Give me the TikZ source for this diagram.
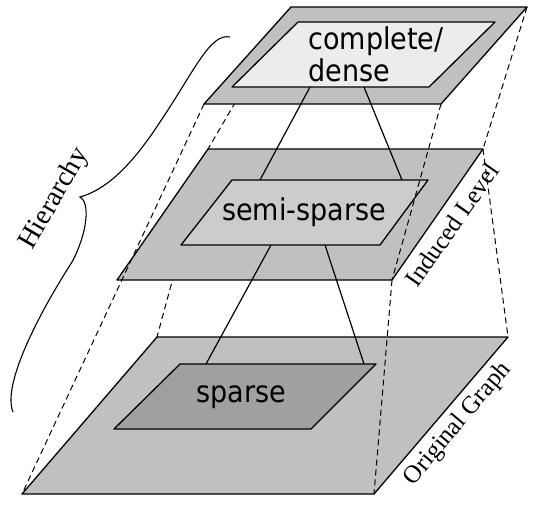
\documentclass[tikz,border=0pt]{standalone}
\usepackage{fontspec}
\setmainfont{Liberation Serif}
\newfontfamily\labelfont[FakeStretch=0.9]{DejaVu Sans}
\definecolor{planegray}{HTML}{C0C0C0}
\definecolor{densegray}{HTML}{ECECEC}
\definecolor{semigray}{HTML}{CCCCCC}
\definecolor{sparsegray}{HTML}{A0A0A0}

\begin{document}
\begin{tikzpicture}[x=1pt,y=-1pt,
	plane/.style={draw,line width=1.3pt,line join=round,fill=planegray},
	inner/.style={draw,line width=1.3pt,line join=round},
	proj/.style={line width=1pt,dash pattern=on 6pt off 4pt},
	link/.style={line width=1.2pt},
	graphtext/.style={font=\labelfont\fontsize{30}{32}\selectfont,inner sep=0pt},
	leveltext/.style={font=\fontsize{25}{30}\selectfont,inner sep=0pt}]
	\useasboundingbox (0,0) rectangle (534,504);
	% corners of the three levels
	\coordinate (T1) at (291,7);   \coordinate (T2) at (527,7);
	\coordinate (T3) at (441,104); \coordinate (T4) at (204,104);
	\coordinate (M1) at (208,149); \coordinate (M2) at (483,149);
	\coordinate (M3) at (392,280); \coordinate (M4) at (117,280);
	\coordinate (B1) at (157,337); \coordinate (B2) at (508,337);
	\coordinate (B3) at (374,494); \coordinate (B4) at (22,494);

	\draw[plane] (B1) -- (B2) -- (B3) -- (B4) -- cycle;
	\draw[inner,fill=sparsegray] (180,364) -- (376,364) -- (311,429) -- (114,429) -- cycle;
	\node[graphtext] (sparse) at (241,397) {sparse};
	\draw[proj] (M1) -- (B1);
	\draw[proj] (M2) -- (B2);
	\draw[proj] (M3) -- (B3);

	\draw[plane] (M1) -- (M2) -- (M3) -- (M4) -- cycle;
	\draw[inner,fill=semigray] (232,180) -- (428,180) -- (380,245) -- (181,245) -- cycle;
	\node[graphtext] (semi) at (304,212) {semi-sparse};
	\draw[proj] (T1) -- (M1);
	\draw[proj] (T2) -- (M2);
	\draw[proj] (T3) -- (M3);
	\draw[proj] (T4) -- (B4);

	\draw[plane] (T1) -- (T2) -- (T3) -- (T4) -- cycle;
	\draw[inner,fill=densegray] (298,22) -- (495,22) -- (429,87) -- (232,87) -- cycle;
	\node[graphtext,align=left] (dense) at (376,54) {complete/\\dense};

	% links between the levels
	\coordinate (D1) at (310,87);  \coordinate (D2) at (364,87);
	\coordinate (S1) at (260,180); \coordinate (S2) at (402,180);
	\coordinate (S3) at (271,245); \coordinate (S4) at (325,245);
	\coordinate (P1) at (206,364); \coordinate (P2) at (364,364);
	\draw[link] (D1) -- (S1);
	\draw[link] (D2) -- (S2);
	\draw[link] (S3) -- (P1);
	\draw[link] (S4) -- (P2);

	\node[leveltext,rotate=55] (induced) at (452,225) {Induced Level};
	\node[leveltext,rotate=50] (original) at (458,424) {Original Graph};

	\draw[line width=1.1pt] (230,37) .. controls (210,33) and (195,70) .. (160,122)
		.. controls (130,168) and (105,190) .. (80,197)
		.. controls (90,202) and (88,232) .. (72,262)
		.. controls (38,315) and (2,385) .. (13,412);
	\node[leveltext,font=\fontsize{28}{32}\selectfont,rotate=60] (hierarchy) at (55,199) {Hierarchy};
\end{tikzpicture}
\end{document}
